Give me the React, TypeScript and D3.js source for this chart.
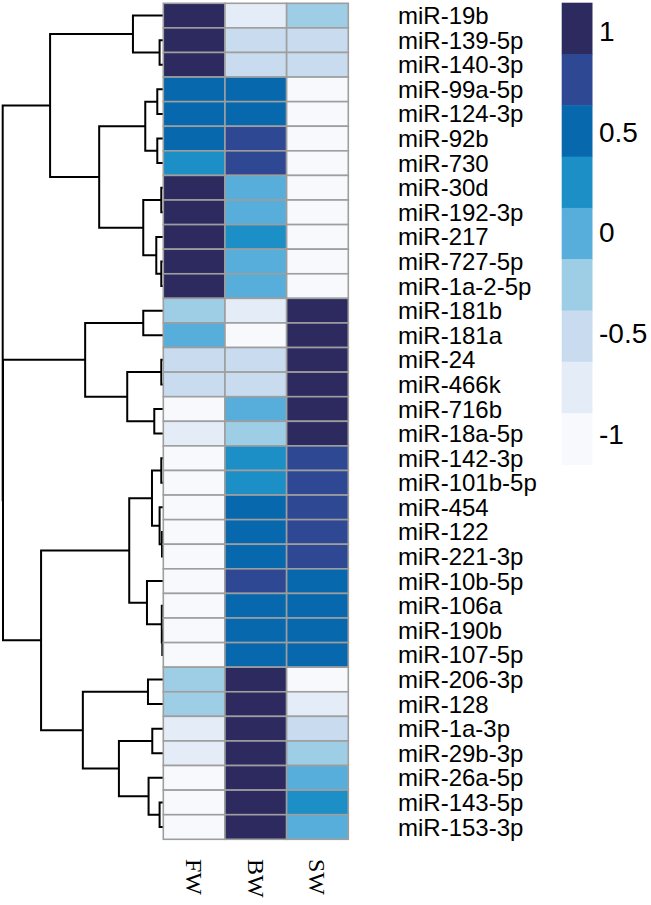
import React from "react";
import * as d3 from "d3";

const rowLabels = [
  "miR-19b", "miR-139-5p", "miR-140-3p", "miR-99a-5p", "miR-124-3p", "miR-92b", "miR-730",
  "miR-30d", "miR-192-3p", "miR-217", "miR-727-5p", "miR-1a-2-5p", "miR-181b", "miR-181a",
  "miR-24", "miR-466k", "miR-716b", "miR-18a-5p", "miR-142-3p", "miR-101b-5p", "miR-454",
  "miR-122", "miR-221-3p", "miR-10b-5p", "miR-106a", "miR-190b", "miR-107-5p", "miR-206-3p",
  "miR-128", "miR-1a-3p", "miR-29b-3p", "miR-26a-5p", "miR-143-5p", "miR-153-3p",
];

const columns = ["FW", "BW", "SW"];

const fwValues = [
  1, 1, 1, 0.5, 0.5, 0.5, 0.25, 1, 1, 1, 1, 1,
  -0.25, 0, -0.5, -0.5, -1, -0.75,
  -1, -1, -1, -1, -1, -1, -1, -1, -1,
  -0.25, -0.25, -0.75, -0.75, -1, -1, -1,
];
const bwValues = [
  -0.75, -0.5, -0.5, 0.5, 0.5, 0.75, 0.75, 0, 0, 0.25, 0, 0,
  -0.75, -1, -0.5, -0.5, 0, -0.25,
  0.25, 0.25, 0.5, 0.5, 0.5, 0.75, 0.5, 0.5, 0.5,
  1, 1, 1, 1, 1, 1, 1,
];
const swValues = [
  -0.25, -0.5, -0.5, -1, -1, -1, -1, -1, -1, -1, -1, -1,
  1, 1, 1, 1, 1, 1,
  0.75, 0.75, 0.75, 0.75, 0.75, 0.5, 0.5, 0.5, 0.5,
  -1, -0.75, -0.5, -0.25, 0, 0.25, 0,
];

const legendBreaks = [1, 0.75, 0.5, 0.25, 0, -0.25, -0.5, -0.75, -1];
const legendColors = [
  "#2d2a5f", "#2f4893", "#0868ae", "#1d8fc7", "#58aedb",
  "#9dcee5", "#c9dcef", "#e4edf7", "#f7f9fd",
];
const legendTicks = [1, 0.5, 0, -0.5, -1];

// dendrogram: [mergeHeight, left, right]; leaves are row indices
const dendrogram: any = [1.603,
  [1.13,
    [0.303, 0, [0.037, 1, 2]],
    [0.64,
      [0.18, [0.06, 3, 4], [0.06, 5, 6]],
      [0.20, [0.02, 7, 8], [0.07, 9, [0.02, 10, 11]]]]],
  [1.60,
    [0.78, [0.20, 12, 13], [0.36, [0.02, 14, 15], [0.09, 16, 17]]],
    [1.22,
      [0.34,
        [0.113, [0.02, 18, 19], [0.037, 20, [0.013, 21, 22]]],
        [0.163, 23, [0.015, 24, [0.01, 25, 26]]]],
      [0.803,
        [0.153, 27, 28],
        [0.443, [0.11, 29, 30], [0.147, 31, [0.037, 32, 33]]]]]]];

const W = 651;
const H = 905;
const heatLeft = 163.3;
const heatRight = 348.3;
const heatTop = 3.3;
const heatBottom = 839.3;

export default function App() {
  const values = [fwValues, bwValues, swValues];
  const x = d3.scaleBand<string>().domain(columns).range([heatLeft, heatRight]).padding(0);
  const y = d3.scaleBand<number>().domain(d3.range(rowLabels.length)).range([heatTop, heatBottom]).padding(0);
  const color = d3.scaleOrdinal<number, string>().domain(legendBreaks).range(legendColors);

  const root = d3.hierarchy<any>(dendrogram, (d: any) => (Array.isArray(d) ? [d[1], d[2]] : null));
  const hx = d3.scaleLinear().domain([0, dendrogram[0]]).range([heatLeft, 2.7]);
  const ypos = new Map<any, number>();
  root.eachAfter((n: any) => {
    if (!n.children) ypos.set(n, (y(n.data) as number) + y.bandwidth() / 2);
    else ypos.set(n, d3.mean(n.children, (c: any) => ypos.get(c)) as number);
  });
  const nodeX = (n: any) => (n.children ? hx(n.data[0]) : heatLeft);
  const links: string[] = [];
  root.each((n: any) => {
    if (!n.children) return;
    const [a, b] = n.children;
    const p = d3.path();
    p.moveTo(nodeX(a), ypos.get(a)!);
    p.lineTo(nodeX(n), ypos.get(a)!);
    p.lineTo(nodeX(n), ypos.get(b)!);
    p.lineTo(nodeX(b), ypos.get(b)!);
    links.push(p.toString());
  });

  const legX = 561.7;
  const legW = 30.8;
  const legTop = 2.7;
  const legBlock = 51.3;
  const legY = d3.scaleLinear().domain([1, -1]).range([31.5, 434]);

  return (
    <svg width={W} height={H} style={{ position: "absolute", left: 0, top: 0, background: "#fff" }}>
      <g>
        {links.map((d, i) => (
          <path key={i} d={d} fill="none" stroke="#000" strokeWidth={2} />
        ))}
      </g>
      <g>
        {columns.map((c, ci) =>
          values[ci].map((v, ri) => (
            <rect
              key={c + ri}
              x={x(c)}
              y={y(ri)}
              width={x.bandwidth()}
              height={y.bandwidth()}
              fill={color(v)}
              stroke="#9e9e9e"
              strokeWidth={1.6}
            />
          ))
        )}
      </g>
      <g fontFamily="'Liberation Sans', Arial, sans-serif" fontSize={24} fill="#000">
        {rowLabels.map((l, i) => (
          <text key={l} x={398} y={(y(i) as number) + y.bandwidth() / 2} dominantBaseline="central">
            {l}
          </text>
        ))}
      </g>
      <g fontFamily="'Liberation Serif', 'Times New Roman', serif" fontSize={24} fill="#000">
        {columns.map((c) => (
          <text
            key={c}
            transform={`translate(${(x(c) as number) + x.bandwidth() / 2},859) rotate(90)`}
            dominantBaseline="central"
          >
            {c}
          </text>
        ))}
      </g>
      <g>
        {legendBreaks.map((b, i) => (
          <rect key={b} x={legX} y={legTop + i * legBlock} width={legW} height={legBlock + 0.5} fill={color(b)} />
        ))}
      </g>
      <g fontFamily="'Liberation Sans', Arial, sans-serif" fontSize={28} fill="#000">
        {legendTicks.map((t) => (
          <text key={t} x={599} y={legY(t)} dominantBaseline="central">
            {t}
          </text>
        ))}
      </g>
    </svg>
  );
}
